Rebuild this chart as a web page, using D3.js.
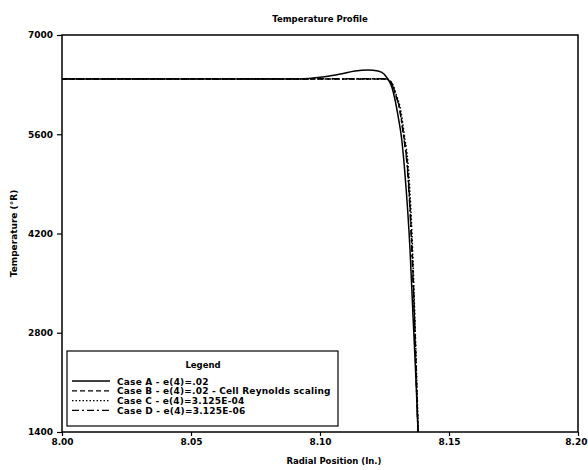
<!DOCTYPE html>
<html>
<head>
<meta charset="utf-8">
<script src="https://cdn.jsdelivr.net/npm/d3@7"></script>
<style>
  body { margin: 0; background: #fff; }
  text { font-family: "DejaVu Sans", sans-serif; font-weight: bold; fill: #000; }
</style>
</head>
<body>
<svg width="588" height="470"></svg>
<script>
// Axis ticks
const xTicks = [8.00, 8.05, 8.10, 8.15, 8.20];
const yTicks = [1400, 2800, 4200, 5600, 7000];

// Radial position (in.) and temperature (R) for each case
const caseA_x = [8.000, 8.092, 8.101, 8.108, 8.1136, 8.1186, 8.1225, 8.1248, 8.1260, 8.1278, 8.1291, 8.1303, 8.1317, 8.1329, 8.1349, 8.1360, 8.1372, 8.1380];
const caseA_t = [6380, 6380, 6408, 6450, 6492, 6506, 6492, 6450, 6394, 6271, 6083, 5848, 5519, 5053, 3967, 3079, 2134, 1400];

const caseB_x = [8.000, 8.1256, 8.1278, 8.1291, 8.1310, 8.1323, 8.1341, 8.1357, 8.1366, 8.1374, 8.1380];
const caseB_t = [6380, 6380, 6319, 6182, 5942, 5618, 5053, 3967, 3079, 2134, 1400];

const caseC_x = [8.000, 8.1258, 8.1280, 8.1294, 8.1313, 8.1326, 8.1344, 8.1359, 8.1367, 8.1375, 8.1381];
const caseC_t = [6378, 6378, 6315, 6175, 5935, 5610, 5050, 3965, 3080, 2134, 1400];

const caseD_x = [8.000, 8.1255, 8.1277, 8.1290, 8.1309, 8.1322, 8.1340, 8.1356, 8.1365, 8.1373, 8.1380];
const caseD_t = [6382, 6382, 6322, 6185, 5946, 5622, 5056, 3970, 3080, 2135, 1400];

const caseNames = [
  "Case A - e(4)=.02",
  "Case B - e(4)=.02 - Cell Reynolds scaling",
  "Case C - e(4)=3.125E-04",
  "Case D - e(4)=3.125E-06"
];
const caseDash = ["none", "5,3", "1.5,2", "7,3,2,3"];

const svg = d3.select('svg');
const margin = {left: 62, right: 10, top: 35, bottom: 38};
const W = +svg.attr('width'), H = +svg.attr('height');

const x = d3.scaleLinear().domain([8.00, 8.20]).range([margin.left, W - margin.right]);
const y = d3.scaleLinear().domain([1400, 7000]).range([H - margin.bottom, margin.top]);

// Title
svg.append('text')
  .attr('x', 320).attr('y', 22)
  .attr('text-anchor', 'middle')
  .style('font-size', '8.5px')
  .text('Temperature Profile');

// Plot frame
svg.append('rect')
  .attr('x', x(8.00)).attr('y', y(7000))
  .attr('width', x(8.20) - x(8.00))
  .attr('height', y(1400) - y(7000))
  .style('fill', 'none').style('stroke', '#000').style('stroke-width', 1.5);

// Axes
const xAxis = svg.append('g')
  .attr('transform', `translate(0,${y(1400)})`)
  .call(d3.axisBottom(x).tickValues(xTicks).tickFormat(d3.format('.2f')).tickSize(4).tickPadding(3));
const yAxis = svg.append('g')
  .attr('transform', `translate(${x(8.00)},0)`)
  .call(d3.axisLeft(y).tickValues(yTicks).tickFormat(d3.format('d')).tickSize(5).tickPadding(4));

[xAxis, yAxis].forEach(g => {
  g.select('.domain').remove();
  g.selectAll('line').style('stroke', '#000').style('stroke-width', 1.2);
  g.selectAll('text').style('font-size', '9px').style('font-family', '"DejaVu Sans", sans-serif').style('font-weight', 'bold');
});
// last x label sits at the page edge, keep it inside
xAxis.selectAll('.tick').filter(d => d === 8.20).select('text')
  .attr('text-anchor', 'end').attr('x', 9);

// Axis titles
svg.append('text')
  .attr('x', 334).attr('y', 464)
  .attr('text-anchor', 'middle')
  .style('font-size', '8.5px')
  .text('Radial Position (In.)');
svg.append('text')
  .attr('transform', `translate(17,${(y(1400) + y(7000)) / 2}) rotate(-90)`)
  .attr('text-anchor', 'middle')
  .style('font-size', '9px')
  .text('Temperature (°R)');

// Clip for curves
svg.append('clipPath').attr('id', 'clip')
  .append('rect')
  .attr('x', x(8.00)).attr('y', y(7000))
  .attr('width', x(8.20) - x(8.00)).attr('height', y(1400) - y(7000));

const line = d3.line()
  .x(d => x(d[0]))
  .y(d => y(d[1]))
  .curve(d3.curveMonotoneX);

const series = [
  d3.zip(caseA_x, caseA_t),
  d3.zip(caseB_x, caseB_t),
  d3.zip(caseC_x, caseC_t),
  d3.zip(caseD_x, caseD_t)
];

// Draw D, C, B first so A sits on top
[3, 2, 1, 0].forEach(i => {
  svg.append('path')
    .datum(series[i])
    .attr('clip-path', 'url(#clip)')
    .attr('d', line)
    .style('fill', 'none')
    .style('stroke', '#000')
    .style('stroke-width', 1.5)
    .style('stroke-dasharray', caseDash[i]);
});

// Legend box
const legend = svg.append('g');
legend.append('rect')
  .attr('x', 67).attr('y', 351)
  .attr('width', 271).attr('height', 75)
  .style('fill', '#fff').style('stroke', '#000').style('stroke-width', 1.2);
legend.append('text')
  .attr('x', 203).attr('y', 368)
  .attr('text-anchor', 'middle')
  .style('font-size', '8.5px')
  .text('Legend');

caseNames.forEach((name, i) => {
  const ly = 381 + i * 9.8;
  legend.append('line')
    .attr('x1', 72).attr('x2', 110)
    .attr('y1', ly).attr('y2', ly)
    .style('stroke', '#000').style('stroke-width', 1.3)
    .style('stroke-dasharray', caseDash[i]);
  legend.append('text')
    .attr('x', 117).attr('y', ly + 3.5)
    .style('font-size', '9px')
    .style('letter-spacing', '0.2px')
    .text(name);
});
</script>
</body>
</html>
